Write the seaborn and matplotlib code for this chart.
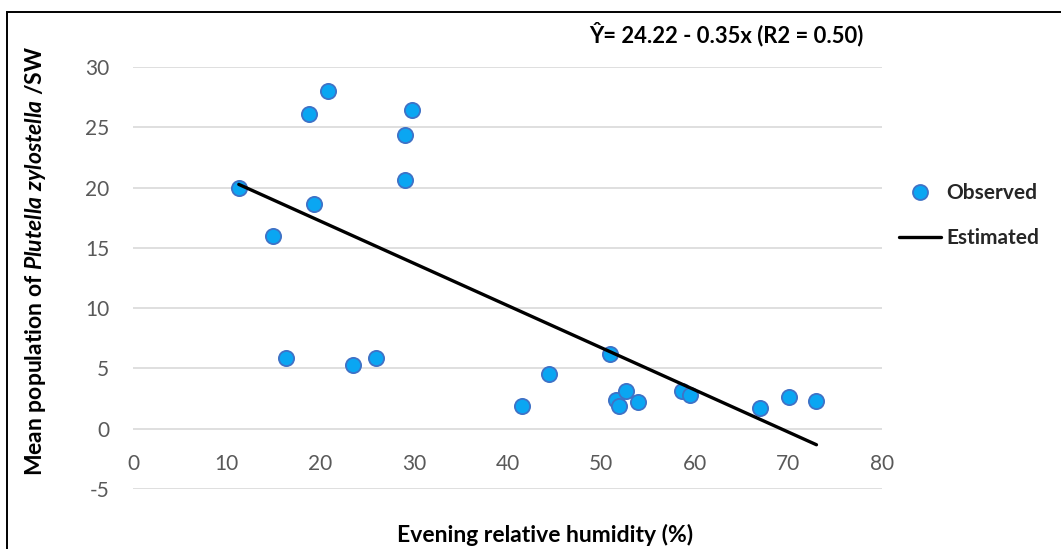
import matplotlib
matplotlib.use("Agg")
import matplotlib.pyplot as plt
from matplotlib.lines import Line2D
from matplotlib.patches import Rectangle
import numpy as np
import pandas as pd
import seaborn as sns

# Observed evening relative humidity (%) and mean P. xylostella population
humidity = [11.3, 14.9, 16.3, 18.8, 19.3, 20.8, 23.5, 26.0, 29.0, 29.1, 29.8,
            41.6, 44.4, 51.0, 51.6, 51.9, 52.7, 53.9, 58.6, 59.5, 67.0, 70.1, 73.0]
population = [20.0, 16.0, 5.9, 26.1, 18.6, 28.0, 5.3, 5.9, 20.6, 24.4, 26.4,
              1.9, 4.5, 6.2, 2.4, 1.9, 3.1, 2.2, 3.1, 2.8, 1.7, 2.6, 2.3]

# Fitted regression: Y = a + b x
intercept = 24.22
slope = -0.35
r2 = 0.50

x_ticks = [0, 10, 20, 30, 40, 50, 60, 70, 80]
y_ticks = [-5, 0, 5, 10, 15, 20, 25, 30]

obs = pd.DataFrame({"humidity": humidity, "population": population})
x_fit = np.array([min(humidity), max(humidity)])
fit = pd.DataFrame({"humidity": x_fit, "population": intercept + slope * x_fit})

sns.set_theme(style="white")
FONT = "Lato"
plt.rcParams["font.family"] = [FONT, "DejaVu Sans"]
plt.rcParams["mathtext.fontset"] = "custom"
plt.rcParams["mathtext.rm"] = f"{FONT}:bold"
plt.rcParams["mathtext.it"] = f"{FONT}:bold:italic"
plt.rcParams["mathtext.bf"] = f"{FONT}:bold"

W, H = 1061, 549
fig = plt.figure(figsize=(W / 100, H / 100), dpi=100)
fig.patch.set_facecolor("white")
ax = fig.add_axes([133 / W, 1 - 489 / H, (882 - 133) / W, (489 - 67) / H])

point_face = "#0AA6F2"
point_edge = "#3F72C6"

sns.scatterplot(data=obs, x="humidity", y="population", ax=ax, s=120,
                color=point_face, edgecolor=point_edge, linewidth=1.3,
                zorder=3, legend=False)
sns.lineplot(data=fit, x="humidity", y="population", ax=ax, color="black",
             linewidth=2.4, zorder=4, legend=False)

ax.set_xlim(0, 80)
ax.set_ylim(-5, 30)
ax.set_xticks(x_ticks)
ax.set_yticks(y_ticks)
ax.set_xticklabels([str(t) for t in x_ticks])
ax.set_yticklabels([str(t) for t in y_ticks])

ax.grid(axis="y", color="#D9D9D9", linewidth=1.2)
ax.grid(axis="x", visible=False)
ax.set_axisbelow(True)
for side in ["top", "right", "left"]:
    ax.spines[side].set_visible(False)
# horizontal axis sits at y = 0
ax.spines["bottom"].set_position(("data", 0))
ax.spines["bottom"].set_visible(False)

ax.tick_params(axis="both", length=0, labelsize=15, colors="#595959")
ax.tick_params(axis="y", pad=17)
ax.tick_params(axis="x", pad=18)

ax.set_xlabel("Evening relative humidity (%)", fontsize=16.5, fontweight="bold",
              color="black")
ax.set_ylabel(r"Mean population of $\it{Plutella\ zylostella}$ /SW",
              fontsize=16.5, fontweight="bold", color="black")
ax.xaxis.set_label_coords((545 - 133) / 749, (489 - 524) / 422)
ax.yaxis.set_label_coords((48 - 133) / 749, (489 - 261) / 422)

fig.text(726 / W, 1 - 34 / H,
         f"\u0176= {intercept:.2f} - {abs(slope):.2f}x (R2 = {r2:.2f})",
         ha="center", va="center", fontsize=15.8, fontweight="bold",
         color="black")

handles = [
    Line2D([], [], marker="o", linestyle="none", markersize=10.8,
           markerfacecolor=point_face, markeredgecolor=point_edge,
           markeredgewidth=1.3),
    Line2D([], [], color="black", linewidth=2.4),
]
leg = ax.legend(handles, ["Observed", "Estimated"], loc="upper left",
                bbox_to_anchor=(899 / W, 1 - 183 / H),
                bbox_transform=fig.transFigure, frameon=False,
                handlelength=2.0, handletextpad=0.25, labelspacing=1.2,
                borderpad=0, borderaxespad=0,
                prop={"family": FONT, "weight": "bold", "size": 15})

# chart area border
fig.add_artist(Rectangle((7 / W, -0.2), 2, 1 - 12 / H + 0.2,
                         transform=fig.transFigure, fill=False,
                         edgecolor="black", linewidth=1.4, clip_on=False))

fig.savefig("out.png", dpi=100, facecolor="white")
